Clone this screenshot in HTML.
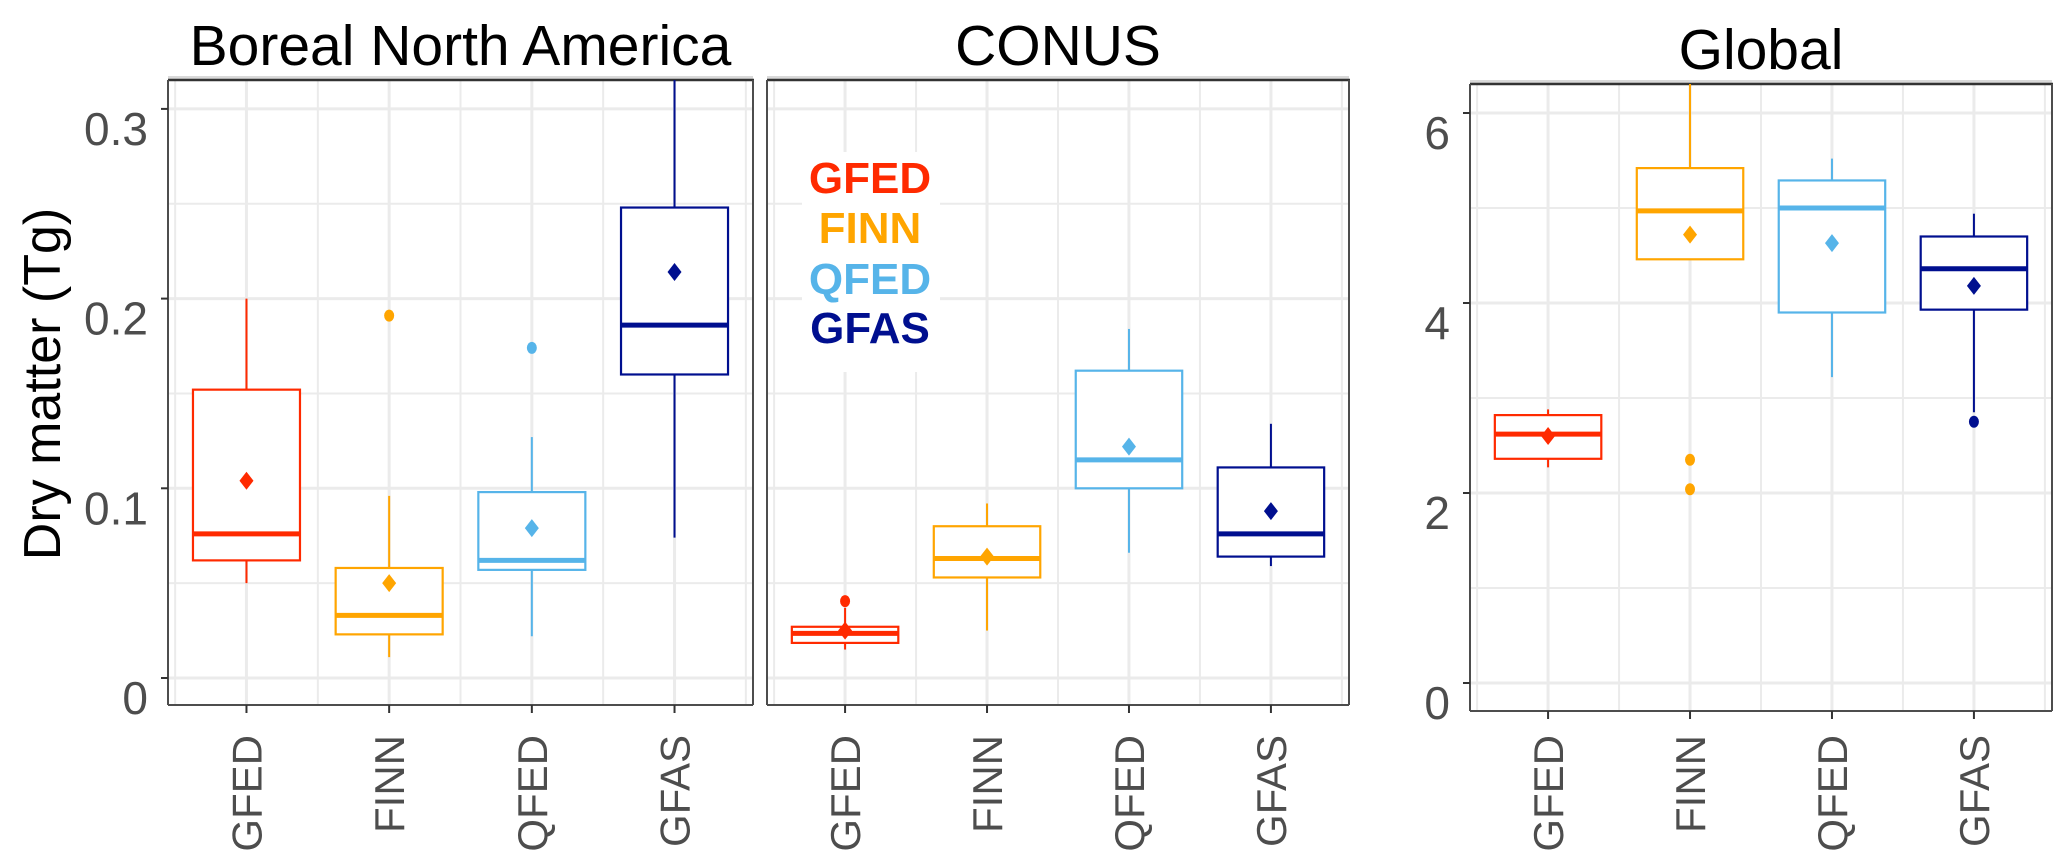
<!DOCTYPE html>
<html><head><meta charset="utf-8">
<style>
html,body{margin:0;padding:0;background:#fff;}
svg{display:block;font-family:"Liberation Sans",Arial,sans-serif;}
</style></head>
<body>
<svg id="chart" width="2067" height="865" viewBox="0 0 2067 865" xmlns="http://www.w3.org/2000/svg">
<text transform="translate(60,384) rotate(-90)" text-anchor="middle" font-size="52" fill="#000">Dry matter (Tg)</text>
</svg>
<script>
const categories = ["GFED","FINN","QFED","GFAS"];
const colors = ["#ff2a00","#ffa500","#56b4e9","#000f8f"];
const panelTitles = ["Boreal North America","CONUS","Global"];
// per panel: [whiskerLow, q1, median, q3, whiskerHigh, mean]
const borealStats = [
  [0.050,0.062,0.076,0.152,0.200,0.104],
  [0.011,0.023,0.033,0.058,0.096,0.050],
  [0.022,0.057,0.062,0.098,0.127,0.079],
  [0.074,0.160,0.186,0.248,0.330,0.214]
];
const borealOutliers = [[],[0.191],[0.174],[]];
const conusStats = [
  [0.015,0.0185,0.0235,0.027,0.037,0.025],
  [0.025,0.053,0.063,0.080,0.092,0.064],
  [0.066,0.100,0.115,0.162,0.184,0.122],
  [0.059,0.064,0.076,0.111,0.134,0.088]
];
const conusOutliers = [[0.0405],[],[],[]];
const globalStats = [
  [2.27,2.36,2.62,2.82,2.88,2.60],
  [4.46,4.46,4.97,5.42,6.60,4.72],
  [3.22,3.90,5.00,5.29,5.52,4.63],
  [2.85,3.93,4.36,4.70,4.94,4.18]
];
const globalOutliers = [[],[2.35,2.04],[],[2.75]];
const ticksSmall = [0,0.1,0.2,0.3];
const tickLabelsSmall = ["0","0.1","0.2","0.3"];
const ticksGlobal = [0,2,4,6];
const tickLabelsGlobal = ["0","2","4","6"];
const legendLabels = ["GFED","FINN","QFED","GFAS"];

const NS="http://www.w3.org/2000/svg";
const svg=document.getElementById('chart');
function mk(tag,attrs,parent){const e=document.createElementNS(NS,tag);for(const k in attrs)e.setAttribute(k,attrs[k]);(parent||svg).appendChild(e);return e;}

const panels=[
  {left:168,right:753,top:80,bottom:705,y0:678,unit:1897,max:0.33,stats:borealStats,out:borealOutliers,ticks:ticksSmall,labels:tickLabelsSmall,minor:0.05,showY:true,key:'boreal'},
  {left:767,right:1349,top:80,bottom:705,y0:678,unit:1897,max:0.33,stats:conusStats,out:conusOutliers,ticks:ticksSmall,labels:tickLabelsSmall,minor:0.05,showY:false,key:'conus'},
  {left:1470,right:2052,top:84,bottom:711,y0:683,unit:95,max:6.6,stats:globalStats,out:globalOutliers,ticks:ticksGlobal,labels:tickLabelsGlobal,minor:1,showY:true,key:'global'}
];

panels.forEach((p,pi)=>{
  const g=mk('g',{});
  
  
  const catW=(p.right-p.left)/4.1;
  const xs=i=>p.left+catW*(0.55+i);
  const ys=v=>p.y0-v*p.unit;
  for(let v=0; ys(v)>p.top; v+=p.minor){
    const y=ys(v); if(y>p.bottom) continue;
    const major=p.ticks.some(t=>Math.abs(t-v)<1e-9);
    const l=mk('line',{x1:p.left,x2:p.right,y1:y,y2:y,stroke:'#ebebeb','stroke-width':major?3:2},g);
    
    
  }
  for(let k=0;k<=8;k++){
    const x=p.left+catW*(0.05+k*0.5);
    const l=mk('line',{x1:x,x2:x,y1:p.top,y2:p.bottom,stroke:'#ebebeb','stroke-width':k%2?3:2},g);
    
    
  }
  mk('rect',{x:p.left,y:p.top-4,width:p.right-p.left,height:3,fill:'#d9d9d9'},g);
  mk('line',{x1:p.left,x2:p.right+1,y1:p.top,y2:p.top,stroke:'#333','stroke-width':2.5},g);
  mk('line',{x1:p.left,x2:p.left,y1:p.top,y2:p.bottom,stroke:'#4d4d4d','stroke-width':2},g);
  mk('line',{x1:p.right,x2:p.right,y1:p.top,y2:p.bottom,stroke:'#4d4d4d','stroke-width':2},g);
  mk('line',{x1:p.left,x2:p.right,y1:p.bottom,y2:p.bottom,stroke:'#4d4d4d','stroke-width':2},g);
  const t=mk('text',{x:(p.left+p.right)/2,y:p.top-15,'text-anchor':'middle','font-size':57,fill:'#000'},g);
  t.textContent=panelTitles[pi];
  
  
  if(p.showY){
    p.ticks.forEach((v,i)=>{
      const y=ys(v);
      mk('line',{x1:p.left-7,x2:p.left,y1:y,y2:y,stroke:'#333','stroke-width':2},g);
      const tl=mk('text',{x:p.left-20,y:y+36,'text-anchor':'end','font-size':46,fill:'#4d4d4d'},g);
      tl.textContent=p.labels[i];
      
      
    });
  }
  categories.forEach((c,i)=>{
    const s=p.stats[i], x=xs(i), col=colors[i], hw=catW*0.375;
    const bg=mk('g',{},g);
    
    
    const top=Math.max(ys(s[4]),p.top);
    mk('line',{x1:x,x2:x,y1:ys(s[3]),y2:top,stroke:col,'stroke-width':2},bg);
    mk('line',{x1:x,x2:x,y1:ys(s[1]),y2:ys(s[0]),stroke:col,'stroke-width':2},bg);
    mk('rect',{x:x-hw,y:ys(s[3]),width:2*hw,height:ys(s[1])-ys(s[3]),fill:'#fff',stroke:col,'stroke-width':2.2},bg);
    mk('line',{x1:x-hw,x2:x+hw,y1:ys(s[2]),y2:ys(s[2]),stroke:col,'stroke-width':5},bg);
    const my=ys(s[5]);
    mk('polygon',{points:`${x},${my-9} ${x+7},${my} ${x},${my+9} ${x-7},${my}`,fill:col},bg);
    p.out[i].forEach(o=>{
      const oc=mk('ellipse',{cx:x,cy:ys(o),rx:5,ry:6,fill:col},bg);
      
      
    });
    mk('line',{x1:x,x2:x,y1:p.bottom,y2:p.bottom+8,stroke:'#333','stroke-width':2},g);
    const xl=mk('text',{transform:`translate(${x+15},735) rotate(-90)`,'text-anchor':'end','font-size':42,fill:'#4d4d4d'},g);
    xl.textContent=c;
    
    
  });
});

const lg=mk('g',{});


mk('rect',{x:802,y:152,width:138,height:220,fill:'#fff'},lg);
const legY=[193,243,294,343];
legendLabels.forEach((l,i)=>{
  const e=mk('text',{x:870,y:legY[i],'text-anchor':'middle','font-size':44,'font-weight':'bold',fill:colors[i]},lg);
  e.textContent=l;
  
  
});
</script>
</body></html>
